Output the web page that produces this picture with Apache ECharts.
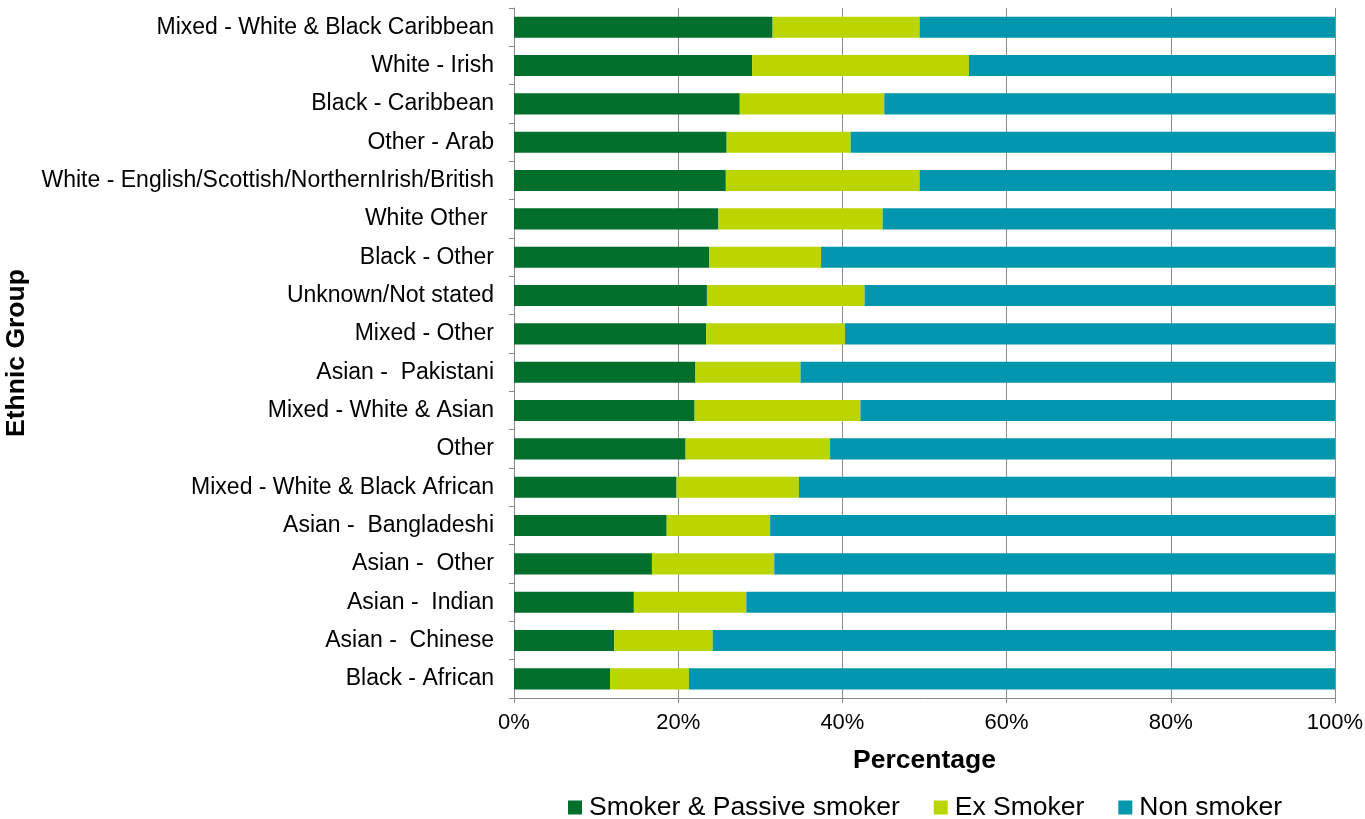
<!DOCTYPE html>
<html>
<head>
<meta charset="utf-8">
<script src="https://cdn.jsdelivr.net/npm/echarts@6/dist/echarts.min.js"></script>
<style>
  html, body { margin: 0; padding: 0; background: #ffffff; }
  #chart { width: 1365px; height: 819px; }
</style>
</head>
<body>
<div id="chart"></div>
<script>
  // categories, top to bottom as shown
  const groups = [
    'Mixed - White & Black Caribbean',
    'White - Irish',
    'Black - Caribbean',
    'Other - Arab',
    'White - English/Scottish/NorthernIrish/British',
    'White Other ',
    'Black - Other',
    'Unknown/Not stated',
    'Mixed - Other',
    'Asian -  Pakistani',
    'Mixed - White & Asian',
    'Other',
    'Mixed - White & Black African',
    'Asian -  Bangladeshi',
    'Asian -  Other',
    'Asian -  Indian',
    'Asian -  Chinese',
    'Black - African'
  ]

  // percentages
  const smoker = [31.5, 29.0, 27.5, 25.9, 25.8, 24.9, 23.8, 23.5, 23.4, 22.1, 22.0, 20.9, 19.8, 18.6, 16.8, 14.6, 12.2, 11.7]
  const exSmoker = [17.9, 26.4, 17.6, 15.1, 23.6, 20.0, 13.6, 19.2, 16.9, 12.8, 20.2, 17.6, 14.9, 12.6, 14.9, 13.7, 12.0, 9.6]
  const nonSmoker = [50.6, 44.6, 54.9, 59.0, 50.6, 55.1, 62.6, 57.3, 59.7, 65.1, 57.8, 61.5, 65.3, 68.8, 68.3, 71.7, 75.8, 78.7]

  const xTicks = [0, 20, 40, 60, 80, 100]

  const font = 'Liberation Sans, Arial, sans-serif'
  const chart = echarts.init(document.getElementById('chart'))

  function barSeries(name, data, color) {
    return {
      name,
      type: 'bar',
      stack: 'total',
      barWidth: '55%',
      data,
      itemStyle: { color },
      animation: false
    }
  }

  chart.setOption({
    backgroundColor: '#ffffff',
    textStyle: { fontFamily: font },
    grid: { left: 514, right: 30, top: 8, bottom: 121, outerBoundsMode: 'none', containLabel: false },
    xAxis: {
      type: 'value',
      min: xTicks[0],
      max: xTicks[xTicks.length - 1],
      interval: 20,
      name: 'Percentage',
      nameLocation: 'middle',
      nameGap: 49,
      nameTextStyle: { fontSize: 26.5, fontWeight: 'bold', color: '#000', fontFamily: font },
      axisLine: { show: true, lineStyle: { color: '#888', width: 1 } },
      axisTick: { show: true, length: 5, lineStyle: { color: '#888' } },
      axisLabel: { formatter: '{value}%', fontSize: 22, color: '#000', margin: 14, fontFamily: font },
      splitLine: { show: true, lineStyle: { color: '#8c8c8c', width: 1 } }
    },
    yAxis: {
      type: 'category',
      data: groups,
      inverse: true,
      name: 'Ethnic Group',
      nameLocation: 'middle',
      nameRotate: 90,
      nameGap: 468,
      nameTextStyle: { fontSize: 26.5, fontWeight: 'bold', color: '#000', fontFamily: font },
      axisLine: { show: true, lineStyle: { color: '#888', width: 1 } },
      axisTick: { show: true, length: 5, lineStyle: { color: '#888' } },
      axisLabel: { fontSize: 23, color: '#000', margin: 20, fontFamily: font },
      splitLine: { show: false }
    },
    legend: {
      left: 563,
      top: 789,
      itemWidth: 14,
      itemHeight: 14,
      itemGap: 34,
      icon: 'rect',
      textStyle: { fontSize: 26.5, color: '#000', fontFamily: font, padding: [0, 0, 0, 2] },
      data: ['Smoker & Passive smoker', 'Ex Smoker', 'Non smoker']
    },
    series: [
      barSeries('Smoker & Passive smoker', smoker, '#006F2B'),
      barSeries('Ex Smoker', exSmoker, '#BBD500'),
      barSeries('Non smoker', nonSmoker, '#0096AD')
    ]
  })
</script>
</body>
</html>
